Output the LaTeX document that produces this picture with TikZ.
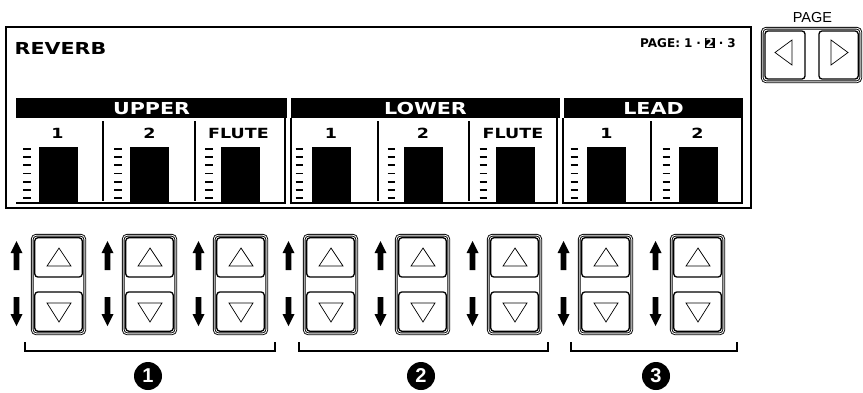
\documentclass[tikz,border=0pt]{standalone}
\usepackage{fontspec}
\newfontfamily\lcdfont[FakeStretch=1.25]{DejaVu Sans}
\newfontfamily\pagefont{DejaVu Sans}
\newfontfamily\lblfont{Liberation Sans}
\tikzset{
  frameline/.style={draw=black, line width=1.8pt},
  secline/.style={draw=black, line width=1.8pt},
  divline/.style={draw=black, line width=2.8pt},
  tickline/.style={draw=black, line width=1.9pt},
  hdrbar/.style={fill=black},
  hdrtext/.style={text=white, inner sep=0pt, font={\lcdfont\bfseries\fontsize{16.5}{16.5}\selectfont}},
  coltext/.style={inner sep=0pt, font={\lcdfont\bfseries\fontsize{14}{14}\selectfont}},
  btnouter/.style={draw=black, double=white, double distance=0.9pt, line width=0.9pt, rounded corners=4pt},
  btninner/.style={draw=black, line width=1.3pt, rounded corners=3pt},
  tri/.style={draw=black, line width=0.7pt, line join=miter},
  bracketline/.style={draw=black, line width=2.3pt},
  numcircle/.style={circle, fill=black, minimum size=28pt, inner sep=0pt, text=white, font={\lblfont\bfseries\fontsize{20}{20}\selectfont}}
}
\begin{document}
\begin{tikzpicture}[x=1pt,y=-1pt]
\useasboundingbox (0,0) rectangle (863,392);
% display frame
\draw[frameline] (6,27) rectangle (751,208);
\node[anchor=west, inner sep=0pt, font={\lcdfont\bfseries\fontsize{16.5}{16.5}\selectfont}] (reverb) at (14.5,48) {REVERB};
\node[anchor=east, inner sep=0pt, font={\pagefont\bfseries\fontsize{12}{12}\selectfont}] (pageind) at (736,43)
  {PAGE:\,\,1\,\,·\,\,{\setlength{\fboxsep}{0.8pt}\colorbox{black}{\textcolor{white}{2}}}\,\,·\,\,3};
% section headers and boxes
\fill[hdrbar] (16,98) rectangle (287,118);
\fill[hdrbar] (291,98) rectangle (560,118);
\fill[hdrbar] (564,98) rectangle (743,118);
\node[hdrtext] (hupper) at (151.5,108.5) {UPPER};
\node[hdrtext] (hlower) at (425.5,108.5) {LOWER};
\node[hdrtext] (hlead) at (653.5,108.5) {LEAD};
\draw[secline] (285,118) -- (285,203) -- (16,203);
\draw[secline] (291,118) -- (291,203) -- (557,203) -- (557,118);
\draw[secline] (563,118) -- (563,203) -- (742,203) -- (742,118);
% dividers
\foreach \d in {103,195,378,469,651} {\draw[divline] (\d,121) -- (\d,201);}
% columns
\foreach \cx/\lx/\lab/\nm in {58.5/57.5/1/ua,149.5/149.5/2/ub,240.5/238.5/FLUTE/uc,331/331/1/la,423/423/2/lb,515/513/FLUTE/lc,606/606.5/1/ea,698/697.5/2/eb} {
  \node[coltext] (col\nm) at (\lx,133.5) {\lab};
  \fill (\cx-19.5,147) rectangle (\cx+19.5,202);
  \foreach \k in {0,...,6} {\draw[tickline] (\cx-35.5,149+8.17*\k) -- ++(7.5,0);}
}
% up/down buttons
\foreach \g in {31,122,213,303,395,487,578,670} {
  \draw[btnouter] (\g+1.2,235.2) rectangle (\g+53.8,333.8);
  \draw[btninner] (\g+3.8,237.8) rectangle (\g+51.2,277);
  \draw[btninner] (\g+3.8,292) rectangle (\g+51.2,331.2);
  \draw[tri] (\g+16,266) -- (\g+40,266) -- (\g+28,248) -- cycle;
  \draw[tri] (\g+16,303) -- (\g+40,303) -- (\g+28,322) -- cycle;
  \fill (\g-14.5,241) -- (\g-8.5,253) -- (\g-11.7,253) -- (\g-11.7,270) -- (\g-17.3,270) -- (\g-17.3,253) -- (\g-20.5,253) -- cycle;
  \fill (\g-14.5,326) -- (\g-8.5,314) -- (\g-11.7,314) -- (\g-11.7,297) -- (\g-17.3,297) -- (\g-17.3,314) -- (\g-20.5,314) -- cycle;
}
% brackets
\draw[bracketline] (25,342) -- (25,351) -- (275,351) -- (275,342);
\draw[bracketline] (299,342) -- (299,351) -- (548,351) -- (548,342);
\draw[bracketline] (571,342) -- (571,351) -- (737,351) -- (737,342);
\node[numcircle] (n1) at (148,376) {1};
\node[numcircle] (n2) at (421,376) {2};
\node[numcircle] (n3) at (656,376) {3};
% PAGE buttons
\node[inner sep=0pt, font={\lblfont\fontsize{14.5}{14.5}\selectfont}] (pagelbl) at (812.5,18) {PAGE};
\draw[btnouter] (762.2,28.2) rectangle (860.8,81.8);
\draw[btninner] (765,31) rectangle (805,79);
\draw[btninner] (819,31) rectangle (858.2,79);
\draw[tri] (792,40) -- (792,65) -- (775,52.5) -- cycle;
\draw[tri] (831,40) -- (831,65) -- (848,52.5) -- cycle;
\end{tikzpicture}
\end{document}
